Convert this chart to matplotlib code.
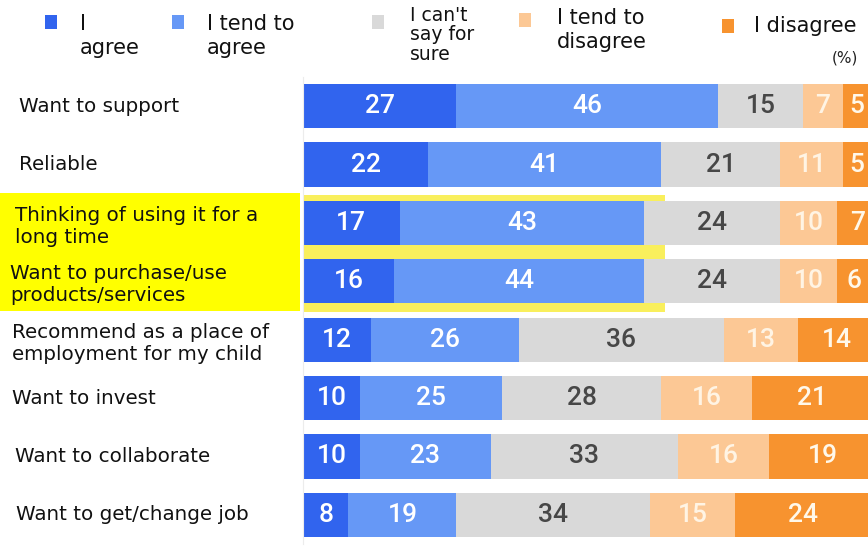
import numpy as np
import matplotlib
matplotlib.use("Agg")
import matplotlib.pyplot as plt
from matplotlib.patches import Rectangle
from matplotlib.transforms import blended_transform_factory

labels = [
    "Want to support",
    "Reliable",
    "Thinking of using it for a\nlong time",
    "Want to purchase/use\nproducts/services",
    "Recommend as a place of\nemployment for my child",
    "Want to invest",
    "Want to collaborate",
    "Want to get/change job",
]
series = ["I\nagree", "I tend to\nagree", "I can't\nsay for\nsure", "I tend to\ndisagree", "I disagree"]
agree = [27, 22, 17, 16, 12, 10, 10, 8]
tend_agree = [46, 41, 43, 44, 26, 25, 23, 19]
cant_say = [15, 21, 24, 24, 36, 28, 33, 34]
tend_disagree = [7, 11, 10, 10, 13, 16, 16, 15]
disagree = [5, 5, 7, 6, 14, 21, 19, 24]
highlighted = [2, 3]

colors = ["#3164ee", "#6698f6", "#d9d9d9", "#fcc895", "#f7932f"]
text_colors = ["white", "white", "#474747", "#fff4e4", "#fff8ea"]

W, H = 868, 550
fig = plt.figure(figsize=(W / 100, H / 100), dpi=100)
ax = fig.add_axes([303 / W, 1 - 544 / H, 565 / W, (544 - 77) / H])

data = np.array([agree, tend_agree, cant_say, tend_disagree, disagree])
y = np.arange(len(labels))

# yellow highlight behind the two marked rows
ax.add_patch(Rectangle((0, min(highlighted) - 0.48), 63.7, len(highlighted) + 0.01,
                       color="#f9ef5c", zorder=0, lw=0))

left = np.zeros(len(labels))
for i in range(len(series)):
    ax.barh(y, data[i], left=left, height=0.76, color=colors[i], zorder=2, lw=0)
    for j in range(len(labels)):
        ax.text(left[j] + data[i][j] / 2, y[j], str(data[i][j]), ha="center", va="center",
                color=text_colors[i], fontsize=19, family="Roboto", weight="medium", zorder=3)
    left += data[i]

ax.set_xlim(0, 99.4)
ax.set_ylim(len(labels) - 0.5, -0.5)
ax.set_xticks([])
ax.set_yticks([])
for s in ["top", "right", "bottom"]:
    ax.spines[s].set_visible(False)
ax.spines["left"].set_color("#ececec")

# row labels in figure x / data y
trans = blended_transform_factory(fig.transFigure, ax.transData)
ax.add_patch(Rectangle((0, min(highlighted) - 0.52), 300 / W, len(highlighted) + 0.03,
                       transform=trans, color="#ffff00", clip_on=False, zorder=0, lw=0))
label_x = [19, 19, 15, 10, 12, 12, 15, 16]
for j, lab in enumerate(labels):
    ax.text(label_x[j] / W, y[j] + (0.06 if "\n" in lab else 0), lab, transform=trans,
            ha="left", va="center", fontsize=14.3, color="#111111", linespacing=1.2)

# legend
sq_x = [45, 172, 372, 519, 722]
sq_y = [22, 22, 22, 20, 26]
txt_x = [80, 207, 410, 557, 754]
txt_y = [36, 36, 35, 30, 26]
for i, name in enumerate(series):
    fig.add_artist(Rectangle((sq_x[i] / W, 1 - (sq_y[i] + 7) / H), 12 / W, 14 / H,
                             color=colors[i], lw=0))
    fig.text(txt_x[i] / W, 1 - txt_y[i] / H, name, ha="left", va="center",
             fontsize=15 if i != 2 else 13.5, color="#111111",
             linespacing=1.2 if i != 2 else 1.05)
fig.text(858 / W, 1 - 58 / H, "(%)", ha="right", va="center", fontsize=11, color="#222222")

fig.savefig("out.png", dpi=100)
